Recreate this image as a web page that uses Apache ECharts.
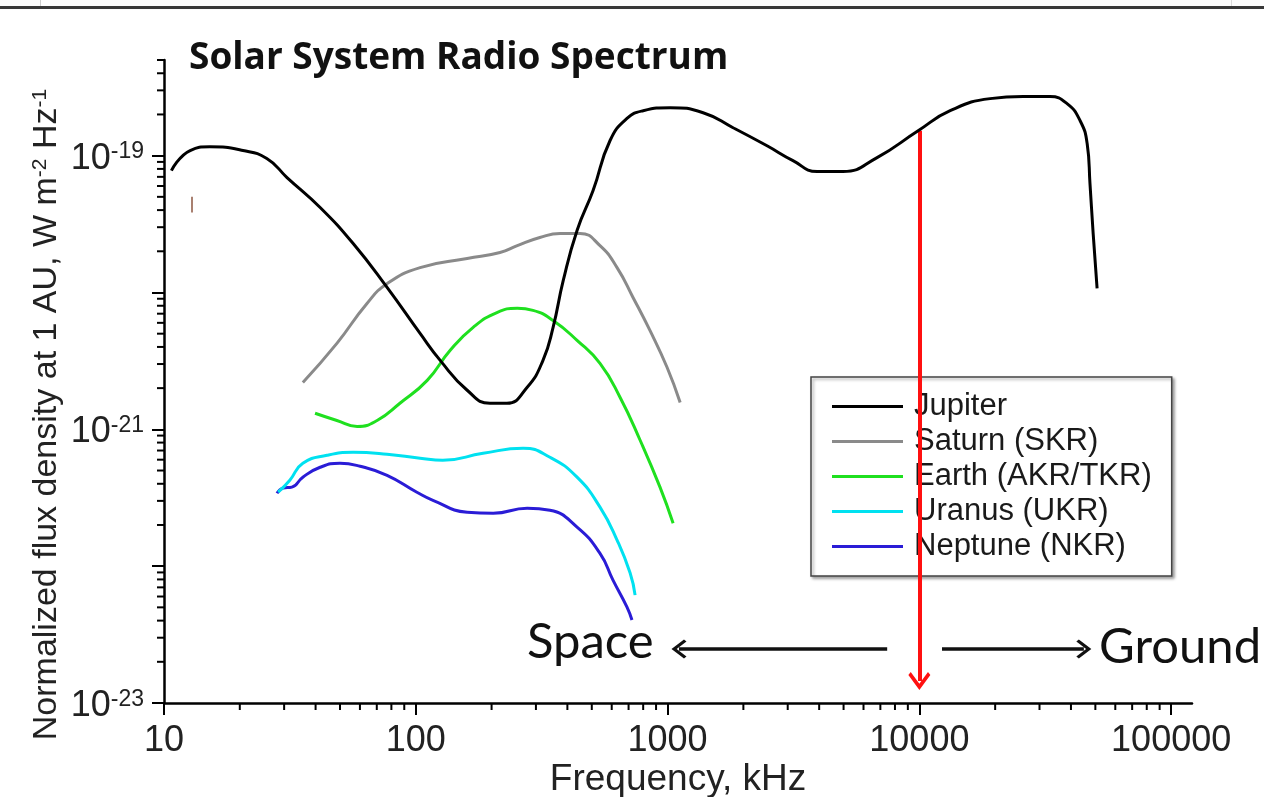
<!DOCTYPE html>
<html><head><meta charset="utf-8">
<script src="https://cdn.jsdelivr.net/npm/echarts@6/dist/echarts.min.js"></script>
<style>html,body{margin:0;padding:0;background:#fff}#chart{width:1264px;height:797px}</style>
</head><body><div id="chart"></div>
<script>
// ---- data (frequency in kHz, flux density in W m^-2 Hz^-1) ----
const jupiterFreq = [10.7, 12.7, 15.2, 20.6, 25.6, 30.8, 41.7, 56.4, 76.9, 104, 125, 160, 197, 230, 277, 320, 351, 385, 437, 506, 591, 690, 800, 1023, 1384, 1820, 2483, 3148, 3926, 4977, 6792, 9886, 13250, 19100, 25800, 33000, 38600, 43500, 46400, 47600, 49000, 50800];
const jupiterFlux = [7.78e-20, 1.09e-19, 1.16e-19, 1.09e-19, 9.53e-20, 6.92e-20, 4.18e-20, 2.28e-20, 1.09e-20, 5.02e-21, 3.19e-21, 1.93e-21, 1.55e-21, 1.55e-21, 2.03e-21, 3.19e-21, 5.56e-21, 1.22e-20, 2.84e-20, 5.56e-20, 1.29e-19, 1.87e-19, 2.13e-19, 2.24e-19, 2.06e-19, 1.60e-19, 1.18e-19, 9.2e-20, 7.66e-20, 7.66e-20, 9.68e-20, 1.52e-19, 2.13e-19, 2.61e-19, 2.70e-19, 2.70e-19, 2.40e-19, 1.80e-19, 1.22e-19, 6.25e-20, 2.70e-20, 1.07e-20];
const saturnFreq = [35.6, 48.6, 64.0, 76.9, 104, 160, 216, 253, 311, 374, 449, 539, 630, 729, 851, 995, 1122];
const saturnFlux = [2.20e-21, 4.25e-21, 8.32e-21, 1.16e-20, 1.52e-20, 1.77e-20, 1.96e-20, 2.20e-20, 2.52e-20, 2.70e-20, 2.70e-20, 2.20e-20, 1.52e-20, 9.2e-21, 5.28e-21, 2.84e-21, 1.57e-21];
const earthFreq = [39.8, 48.6, 58.5, 70.2, 86.5, 111, 137, 169, 210, 253, 292, 351, 437, 539, 648, 778, 933, 1052];
const earthFlux = [1.31e-21, 1.16e-21, 1.05e-21, 1.16e-21, 1.55e-21, 2.28e-21, 3.78e-21, 5.56e-21, 7.14e-21, 7.66e-21, 7.4e-21, 6.25e-21, 4.47e-21, 3.03e-21, 1.71e-21, 8.32e-22, 3.78e-22, 2.06e-22];
const uranusFreq = [28.4, 31.6, 35.6, 44.4, 56.4, 76.9, 104, 128, 185, 267, 341, 437, 539, 630, 710, 743];
const uranusFlux = [3.47e-22, 4.25e-22, 5.65e-22, 6.46e-22, 6.79e-22, 6.58e-22, 6.15e-22, 5.94e-22, 6.68e-22, 7.28e-22, 6.25e-22, 4.47e-22, 2.70e-22, 1.55e-22, 8.9e-23, 6.14e-23];
const neptuneFreq = [28.1, 29.7, 32.2, 35.6, 41.7, 50.0, 60.1, 76.9, 101, 117, 160, 203, 277, 341, 437, 539, 607, 690, 722];
const neptuneFlux = [3.41e-22, 3.72e-22, 3.78e-22, 4.47e-22, 5.28e-22, 5.65e-22, 5.37e-22, 4.61e-22, 3.47e-22, 3.03e-22, 2.48e-22, 2.44e-22, 2.65e-22, 2.56e-22, 1.93e-22, 1.24e-22, 7.91e-23, 5.02e-23, 4.04e-23];
const seriesNames = ['Jupiter', 'Saturn (SKR)', 'Earth (AKR/TKR)', 'Uranus (UKR)', 'Neptune (NKR)'];

// ---- axis ticks ----
const yAxisMin = 1e-23, yAxisMax = 5e-19;
const xAxisMin = 10, xAxisMax = 121000;
const xLabelValues = [10, 100, 1000, 10000, 100000];
const xMajorTicks = [10, 100, 1000, 10000, 100000];
const yMajorTicks = [1e-23, 1e-22, 1e-21, 1e-20, 1e-19];
const yLabelValues = [1e-23, 1e-21, 1e-19];
const xMinorTicks = [20,30,40,50,60,70,80,90, 200,300,400,500,600,700,800,900, 2000,3000,4000,5000,6000,7000,8000,9000, 20000,30000,40000,50000,60000,70000,80000,90000];
const yMinorTicks = [2e-23,3e-23,4e-23,5e-23,6e-23,7e-23,8e-23,9e-23, 2e-22,3e-22,4e-22,5e-22,6e-22,7e-22,8e-22,9e-22, 2e-21,3e-21,4e-21,5e-21,6e-21,7e-21,8e-21,9e-21, 2e-20,3e-20,4e-20,5e-20,6e-20,7e-20,8e-20,9e-20, 2e-19,3e-19,4e-19,5e-19];

// ---- annotation positions (data space) ----
const markerFreq = 10000;
const markerTop = 1.52e-19, markerBottom = 1.45e-23;
const arrowFlux = 2.48e-23;
const spaceArrow = [7450, 1110];
const groundArrow = [12300, 45000];
const smudge = [12.9, 5.0e-20, 3.84e-20];

const colors = ['#000000', '#8a8a8a', '#1fe01f', '#00e1f0', '#2a1cd6'];
const FONT = 'Liberation Sans, Arial, sans-serif';

function zip(a, b) { return a.map((v, i) => [v, b[i]]); }
const seriesData = [zip(jupiterFreq, jupiterFlux), zip(saturnFreq, saturnFlux), zip(earthFreq, earthFlux), zip(uranusFreq, uranusFlux), zip(neptuneFreq, neptuneFlux)];

const chart = echarts.init(document.getElementById('chart'), null, {renderer: 'canvas'});

const chevron = 'path://M0,0 L12,13 L9.4,15.6 L0,5.4 L-9.4,15.6 L-12,13 Z';

const lineSeries = seriesNames.map((n, i) => ({
  name: n, type: 'line', data: seriesData[i], symbol: 'none', smooth: 0.5,
  xAxisIndex: 0, yAxisIndex: 0,
  lineStyle: {color: colors[i], width: 3}, itemStyle: {color: colors[i]},
  z: 5 - i
}));

function yLabelFormatter(v) {
  if (!(v > 0)) v = yAxisMin;   // the axis minimum may come back rounded to 0
  const e = Math.round(Math.log10(v));
  return '{b|10}{s|' + e + '}';
}

const option = {
  animation: false,
  backgroundColor: '#ffffff',
  title: {
    text: 'Solar System Radio Spectrum', left: 189, top: 40, padding: 0,
    textStyle: {fontFamily: 'Open Sans, sans-serif', fontWeight: 'bold', fontSize: 37, color: '#111'}
  },
  legend: {
    orient: 'vertical', left: 811, top: 377,
    padding: [12, 20, 12, 21], itemWidth: 71, itemHeight: 3, itemGap: 0, icon: 'rect',
    data: seriesNames,
    textStyle: {fontFamily: FONT, fontSize: 31, lineHeight: 35, color: '#1a1a1a', padding: [0, 0, 0, 6]},
    borderColor: '#444', borderWidth: 1.5, backgroundColor: '#fff',
    shadowColor: 'rgba(0,0,0,0.35)', shadowBlur: 3, shadowOffsetX: 2, shadowOffsetY: 2
  },
  grid: {left: 164, right: 72, top: 60, bottom: 94, containLabel: false, outerBoundsMode: 'none'},
  xAxis: [{
    type: 'log', logBase: 10, min: xAxisMin, max: xAxisMax,
    name: 'Frequency, kHz', nameLocation: 'middle', nameGap: 58, nameMoveOverlap: false,
    nameTextStyle: {fontFamily: FONT, fontSize: 37, color: '#222'},
    axisLine: {lineStyle: {color: '#000', width: 2.5}},
    axisTick: {length: 12, customValues: xMajorTicks, lineStyle: {color: '#000', width: 2}},
    splitLine: {show: false},
    axisLabel: {
      margin: 23, fontFamily: FONT, fontSize: 36, lineHeight: 30, color: '#222', showMinLabel: true, hideOverlap: false,
      formatter: function (v) {
        for (const t of xLabelValues) { if (Math.abs(v - t) / t < 1e-6) return String(t); }
        return '';
      }
    }
  }],
  yAxis: [{
    type: 'log', logBase: 10, min: yAxisMin, max: yAxisMax,
    name: 'Normalized flux density at 1 AU, W m{s|-2} Hz{s|-1}',
    nameLocation: 'middle', nameGap: 100, nameRotate: 90, nameMoveOverlap: false,
    nameTextStyle: {
      fontFamily: FONT, fontSize: 34, color: '#222', padding: [0, 66, 0, 0],
      rich: {s: {fontFamily: FONT, fontSize: 21, color: '#222', verticalAlign: 'top', lineHeight: 22}}
    },
    axisLine: {lineStyle: {color: '#000', width: 2.5}},
    axisTick: {length: 12, customValues: yMajorTicks, lineStyle: {color: '#000', width: 2}},
    splitLine: {show: false},
    axisLabel: {
      customValues: yLabelValues,
      margin: 20, color: '#222', showMinLabel: true, hideOverlap: false, padding: [6, 0, 0, 0],
      formatter: yLabelFormatter,
      rich: {
        b: {fontFamily: FONT, fontSize: 36, color: '#222', lineHeight: 36, padding: [16, 0, 0, 0], verticalAlign: 'bottom'},
        s: {fontFamily: FONT, fontSize: 23, color: '#222', lineHeight: 22, verticalAlign: 'top'}
      }
    }
  }],
  graphic: [
    {type: 'rect', shape: {x: 0, y: 6, width: 1264, height: 3}, style: {fill: '#3a3a3a'}, z: 100},
    {type: 'rect', shape: {x: 40, y: 0, width: 1, height: 6}, style: {fill: '#cfcfcf'}, z: 100},
    {type: 'rect', shape: {x: 1231, y: 0, width: 1, height: 6}, style: {fill: '#dddddd'}, z: 100},
    {type: 'text', style: {text: 'Space', x: 527, y: 642, verticalAlign: 'middle', font: '49px Lato, sans-serif', fill: '#111'}, z: 100},
    {type: 'text', style: {text: 'Ground', x: 1099, y: 647, verticalAlign: 'middle', font: '49px Lato, sans-serif', fill: '#111'}, z: 100}
  ],
  series: lineSeries.concat([
    {
      name: 'yMinor', type: 'custom', xAxisIndex: 0, yAxisIndex: 0, clip: false, silent: true, z: 10,
      data: yMinorTicks.map(v => [xAxisMin, v]),
      renderItem: function (params, api) {
        const p = api.coord([api.value(0), api.value(1)]);
        return {type: 'line', shape: {x1: p[0] - 7, y1: p[1], x2: p[0], y2: p[1]}, style: {stroke: '#000', lineWidth: 2}};
      }
    },
    {
      name: 'xMinor', type: 'custom', xAxisIndex: 0, yAxisIndex: 0, clip: false, silent: true, z: 10,
      data: xMinorTicks.map(v => [v, yAxisMin]),
      renderItem: function (params, api) {
        const p = api.coord([api.value(0), api.value(1)]);
        return {type: 'line', shape: {x1: p[0], y1: p[1], x2: p[0], y2: p[1] + 7}, style: {stroke: '#000', lineWidth: 2}};
      }
    },
    {
      name: 'marker', type: 'line', data: [], silent: true, z: 20,
      markLine: {
        silent: true, animation: false, symbol: ['none', chevron], symbolSize: [22, 18],
        label: {show: false},
        lineStyle: {color: '#ff1010', width: 4, type: 'solid'},
        data: [[{coord: [markerFreq, markerTop]}, {coord: [markerFreq, markerBottom]}]]
      }
    },
    {
      name: 'arrows', type: 'line', data: [], silent: true, z: 20,
      markLine: {
        silent: true, animation: false, symbol: ['none', chevron], symbolSize: [19, 15],
        label: {show: false},
        lineStyle: {color: '#111', width: 3.5, type: 'solid'},
        data: [
          [{coord: [spaceArrow[0], arrowFlux]}, {coord: [spaceArrow[1], arrowFlux]}],
          [{coord: [groundArrow[0], arrowFlux]}, {coord: [groundArrow[1], arrowFlux]}]
        ]
      }
    },
    {
      name: 'smudge', type: 'line', data: [], silent: true, z: 20,
      markLine: {
        silent: true, animation: false, symbol: ['none', 'none'], label: {show: false},
        lineStyle: {color: '#a98070', width: 2, type: 'solid'},
        data: [[{coord: [smudge[0], smudge[1]]}, {coord: [smudge[0], smudge[2]]}]]
      }
    }
  ])
};
chart.setOption(option);
</script>
</body></html>
